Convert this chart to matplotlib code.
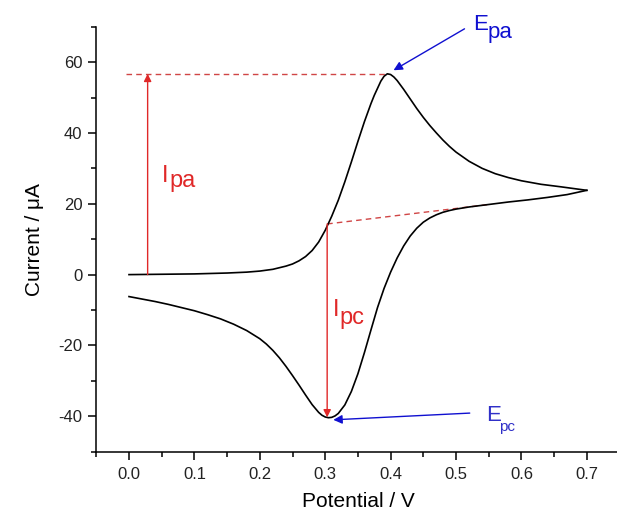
import matplotlib
matplotlib.use("Agg")
import matplotlib.pyplot as plt
from matplotlib.ticker import MultipleLocator, FormatStrFormatter

plt.rcParams['font.family'] = ['Liberation Sans', 'DejaVu Sans']
plt.rcParams['axes.unicode_minus'] = False

# ---- data: forward (anodic) scan ----
fwd_E = [0.00, 0.05, 0.10, 0.15, 0.18, 0.20, 0.22, 0.24, 0.25, 0.26, 0.27, 0.28,
         0.29, 0.30, 0.31, 0.32, 0.33, 0.34, 0.35, 0.36, 0.37, 0.375, 0.38, 0.385,
         0.39, 0.395, 0.40, 0.405, 0.41, 0.42, 0.43, 0.44, 0.45, 0.46, 0.47, 0.48,
         0.49, 0.50, 0.52, 0.54, 0.56, 0.58, 0.60, 0.63, 0.66, 0.70]
fwd_I = [0.0, 0.1, 0.2, 0.45, 0.7, 1.0, 1.5, 2.4, 3.0, 3.9, 5.1, 6.8,
         9.2, 12.5, 16.5, 21.0, 26.2, 31.8, 37.6, 43.2, 48.3, 50.6, 52.6, 54.6,
         56.0, 56.7, 56.5, 55.8, 54.8, 52.3, 49.6, 46.9, 44.4, 42.1, 40.0, 38.0,
         36.2, 34.6, 32.0, 30.0, 28.5, 27.4, 26.5, 25.5, 24.8, 23.8]
# ---- data: reverse (cathodic) scan ----
rev_E = [0.70, 0.67, 0.64, 0.61, 0.58, 0.55, 0.52, 0.50, 0.49, 0.48, 0.47, 0.46,
         0.45, 0.44, 0.43, 0.42, 0.41, 0.40, 0.39, 0.38, 0.37, 0.36, 0.35, 0.34,
         0.33, 0.32, 0.315, 0.31, 0.305, 0.30, 0.295, 0.29, 0.28, 0.27, 0.26, 0.25,
         0.24, 0.23, 0.22, 0.21, 0.20, 0.18, 0.16, 0.14, 0.12, 0.10, 0.08, 0.06,
         0.04, 0.02, 0.00]
rev_I = [23.8, 22.6, 21.8, 21.1, 20.5, 19.8, 19.1, 18.5, 18.1, 17.6, 16.9, 16.0,
         14.8, 13.1, 10.9, 8.1, 4.7, 0.7, -3.9, -9.3, -15.6, -22.0, -28.0, -33.0,
         -36.8, -39.2, -39.9, -40.3, -40.4, -40.2, -39.7, -38.9, -36.7, -34.0, -31.2, -28.5,
         -25.9, -23.5, -21.4, -19.6, -18.1, -15.8, -14.0, -12.5, -11.3, -10.2, -9.3, -8.4,
         -7.6, -6.9, -6.2]

# key points for annotations
Epa, Ipa_peak = 0.394, 56.7
Ipa_base_E = 0.0285
Epc, Ipc_base, Ipc_min = 0.303, 14.3, -40.3
baseline_end = (0.55, 19.8)

xticks = [0.0, 0.1, 0.2, 0.3, 0.4, 0.5, 0.6, 0.7]
yticks = [-40, -20, 0, 20, 40, 60]

fig = plt.figure(figsize=(6.17, 5.11), dpi=100)
ax = fig.add_axes([96.3 / 617, 59.3 / 511, (619.5 - 96.3) / 617, 425.0 / 511])

ax.plot(fwd_E, fwd_I, color='black', lw=1.2, zorder=3)
ax.plot(rev_E, rev_I, color='black', lw=1.2, zorder=3)

ax.set_xlim(-0.05, 0.75)
ax.set_ylim(-50, 70)
ax.set_xticks(xticks)
ax.set_yticks(yticks)
ax.xaxis.set_major_formatter(FormatStrFormatter('%.1f'))
ax.xaxis.set_minor_locator(MultipleLocator(0.05))
ax.yaxis.set_minor_locator(MultipleLocator(10))
for s in ['top', 'right']:
    ax.spines[s].set_visible(False)
for s in ['left', 'bottom']:
    ax.spines[s].set_linewidth(1.1)
ax.tick_params(which='major', direction='out', length=6, width=1.1, labelsize=12, pad=4,
               labelcolor='#222222')
ax.tick_params(which='minor', direction='out', length=3.5, width=1.1)
ax.tick_params(axis='x', pad=5)

ax.set_xlabel('Potential / V', fontsize=15, labelpad=7)
ax.set_ylabel('Current / μA', fontsize=15, labelpad=10)

red = '#e02828'
dred = '#d04545'
blue = '#1010d0'

# dashed guide lines
ax.plot([-0.004, Epa], [Ipa_peak, Ipa_peak], ls=(0, (4, 3)), color=dred, lw=1.0, zorder=2)
ax.plot([Epc, baseline_end[0]], [Ipc_base, baseline_end[1]], ls=(0, (4, 3)), color=dred, lw=1.0, zorder=2)

# red vertical arrows
ax.annotate('', xy=(Ipa_base_E, Ipa_peak), xytext=(Ipa_base_E, 0.0),
            arrowprops=dict(arrowstyle='-|>', color=red, lw=1.0, mutation_scale=11,
                            shrinkA=0, shrinkB=0))
ax.annotate('', xy=(Epc, Ipc_min), xytext=(Epc, Ipc_base),
            arrowprops=dict(arrowstyle='-|>', color=red, lw=1.0, mutation_scale=11,
                            shrinkA=0, shrinkB=0))

# blue arrows
ax.annotate('', xy=(0.4045, 57.7), xytext=(0.513, 69.4), annotation_clip=False,
            arrowprops=dict(arrowstyle='-|>', color=blue, lw=1.0, mutation_scale=13,
                            shrinkA=0, shrinkB=0))
ax.annotate('', xy=(0.3124, -41.0), xytext=(0.521, -39.1),
            arrowprops=dict(arrowstyle='-|>', color=blue, lw=1.0, mutation_scale=13,
                            shrinkA=0, shrinkB=0))

# labels
ax.text(0.051, 26.1, 'I', color=red, fontsize=17, ha='left', va='baseline')
ax.text(0.0615, 24.6, 'pa', color=red, fontsize=17, ha='left', va='baseline')
ax.text(0.3115, -11.6, 'I', color=red, fontsize=17, ha='left', va='baseline')
ax.text(0.3215, -13.9, 'pc', color=red, fontsize=17, ha='left', va='baseline')

ax.text(0.526, 69.0, 'E', color=blue, fontsize=16, ha='left', va='baseline', clip_on=False)
ax.text(0.548, 66.9, 'pa', color=blue, fontsize=16, ha='left', va='baseline', clip_on=False)
ax.text(0.546, -41.3, 'E', color='#3030c8', fontsize=16, ha='left', va='baseline')
ax.text(0.566, -44.1, 'pc', color='#3030c8', fontsize=11, ha='left', va='baseline')

fig.savefig('out.png', dpi=100)
